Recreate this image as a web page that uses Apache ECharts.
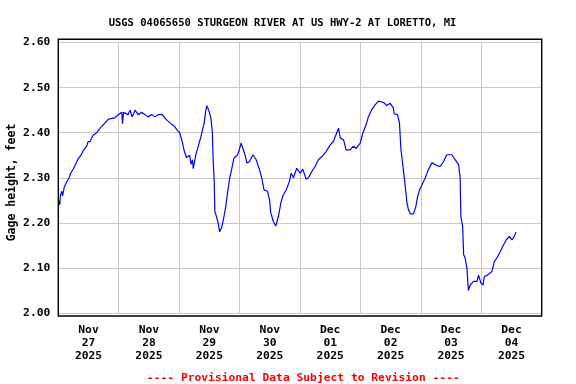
<!DOCTYPE html>
<html>
<head>
<meta charset="utf-8">
<script src="https://cdn.jsdelivr.net/npm/echarts@6/dist/echarts.min.js"></script>
<style>html,body{margin:0;padding:0;background:#fff}#c{width:576px;height:384px}</style>
</head>
<body>
<div id="c"></div>
<script>
const titleText = "USGS 04065650 STURGEON RIVER AT US HWY-2 AT LORETTO, MI";
const footerText = "---- Provisional Data Subject to Revision ----";
const yAxisName = "Gage height, feet";
// hours since 2025-11-27 00:00
const hours = [0.3,0.6,0.8,1.4,1.7,2.4,3.3,4.3,4.9,6.0,6.9,7.7,8.2,9.0,9.9,11.3,11.8,12.6,13.4,13.9,15.3,16.6,18.3,19.9,22.5,23.8,25.2,25.5,25.9,27.7,28.5,29.3,30.5,31.7,33.1,34.5,35.6,37.2,38.4,39.6,41.3,42.7,44.7,46.0,47.3,48.2,49.0,50.0,50.9,52.2,52.7,53.3,53.6,54.6,55.6,56.6,57.2,57.9,58.6,59.0,59.9,60.6,61.2,61.5,61.9,62.2,62.8,63.5,64.1,64.9,65.8,66.5,67.2,68.1,68.9,69.8,71.1,71.8,72.6,73.5,74.2,74.9,75.8,77.3,78.6,79.9,80.8,81.7,83.1,83.9,84.4,85.4,86.4,87.4,88.4,89.2,90.5,91.8,92.5,93.4,94.7,96.1,97.1,98.4,99.4,100.7,102.0,103.3,104.7,106.0,108.0,109.3,110.6,111.3,112.0,113.3,114.3,115.9,117.2,118.3,119.9,121.0,122.3,123.2,124.5,125.9,127.2,129.2,130.5,131.8,133.1,133.4,134.7,135.5,136.1,136.9,137.8,138.5,139.1,139.8,141.1,142.0,142.7,143.5,144.4,145.7,147.0,148.4,149.0,150.4,151.7,153.0,154.3,156.3,157.6,159.0,159.6,159.9,160.6,161.0,161.6,162.3,162.9,163.6,164.9,166.3,166.9,167.9,168.7,169.2,170.5,172.2,173.2,174.2,175.5,176.8,177.9,179.2,180.2,181.1,181.8];
const gage = [2.25,2.24,2.26,2.27,2.26,2.28,2.29,2.30,2.31,2.32,2.33,2.34,2.34,2.35,2.36,2.37,2.38,2.38,2.39,2.395,2.40,2.41,2.42,2.43,2.433,2.44,2.445,2.42,2.445,2.44,2.45,2.435,2.45,2.44,2.445,2.44,2.435,2.44,2.435,2.44,2.44,2.43,2.42,2.415,2.405,2.40,2.385,2.36,2.345,2.35,2.33,2.34,2.32,2.35,2.37,2.39,2.405,2.42,2.45,2.46,2.447,2.433,2.40,2.34,2.295,2.225,2.214,2.20,2.18,2.19,2.214,2.236,2.266,2.30,2.32,2.344,2.35,2.36,2.377,2.362,2.35,2.333,2.335,2.351,2.34,2.318,2.30,2.273,2.27,2.251,2.222,2.203,2.193,2.214,2.244,2.26,2.273,2.292,2.31,2.30,2.321,2.31,2.319,2.297,2.30,2.314,2.325,2.34,2.347,2.355,2.373,2.381,2.40,2.41,2.388,2.384,2.362,2.362,2.37,2.365,2.377,2.40,2.418,2.436,2.451,2.462,2.47,2.467,2.46,2.465,2.455,2.442,2.44,2.422,2.362,2.325,2.281,2.244,2.229,2.22,2.22,2.236,2.258,2.273,2.284,2.299,2.318,2.333,2.336,2.327,2.325,2.336,2.351,2.351,2.34,2.329,2.30,2.214,2.192,2.129,2.122,2.099,2.05,2.062,2.07,2.07,2.084,2.066,2.062,2.081,2.084,2.092,2.114,2.122,2.136,2.151,2.162,2.17,2.162,2.17,2.18];
const xTickLabels = ["Nov\n27\n2025","Nov\n28\n2025","Nov\n29\n2025","Nov\n30\n2025","Dec\n01\n2025","Dec\n02\n2025","Dec\n03\n2025","Dec\n04\n2025"];

const FONT = "'DejaVu Sans Mono', monospace";
const chart = echarts.init(document.getElementById('c'), null, {renderer: 'canvas'});
const data = hours.map((h, i) => [h, gage[i]]);
chart.setOption({
  animation: false,
  backgroundColor: '#fff',
  title: [
    {text: titleText, left: 277.5, top: 13, textAlign: 'center',
     textStyle: {fontFamily: FONT, fontWeight: 'bold', fontSize: 10.5, color: '#000'}},
    {text: footerText, left: 298.3, top: 368, textAlign: 'center',
     textStyle: {fontFamily: FONT, fontWeight: 'bold', fontSize: 11.3, color: '#ff0000'}}
  ],
  grid: {left: 58.3, right: 34.3, top: 42.5, bottom: 71, containLabel: false, outerBoundsMode: 'none'},
  xAxis: [
    {type: 'value', min: 0, max: 192, interval: 12, position: 'bottom',
     axisLine: {show: false}, axisTick: {show: false}, splitLine: {show: false},
     axisLabel: {show: true, margin: 11, fontFamily: FONT, fontWeight: 'bold', fontSize: 11.3,
       color: '#000', lineHeight: 13, showMinLabel: true, showMaxLabel: true, hideOverlap: false,
       formatter: v => (Math.round(v) % 24 === 12) ? xTickLabels[(Math.round(v) - 12) / 24] : ''}},
    {type: 'value', min: 0, max: 192, interval: 24, position: 'top',
     axisLine: {show: false}, axisTick: {show: false}, axisLabel: {show: false},
     splitLine: {show: true, lineStyle: {color: '#c8c8c8', width: 1}}}
  ],
  yAxis: {type: 'value', min: 2.0, max: 2.6, interval: 0.1,
    axisLine: {show: false}, axisTick: {show: false},
    axisLabel: {margin: 8, fontFamily: FONT, fontWeight: 'bold', fontSize: 11.3, color: '#000',
      formatter: v => v.toFixed(2)},
    splitLine: {show: true, lineStyle: {color: '#c8c8c8', width: 1}}},
  graphic: [
    {type: 'rect', z: 100, silent: true,
     shape: {x: 58.3, y: 39.3, width: 483.4, height: 276.7},
     style: {fill: null, stroke: '#000', lineWidth: 1.4}},
    {type: 'text', x: 12, y: 182.5, rotation: Math.PI / 2, silent: true,
     style: {text: yAxisName, fill: '#000', font: "bold 11.5px 'DejaVu Sans Mono', monospace",
             textAlign: 'center', textVerticalAlign: 'middle'}}
  ],
  series: [{
    type: 'line', xAxisIndex: 0, data: data, showSymbol: false, symbol: 'none',
    lineStyle: {color: '#0000ff', width: 1.2}, z: 5
  }]
});
</script>
</body>
</html>
